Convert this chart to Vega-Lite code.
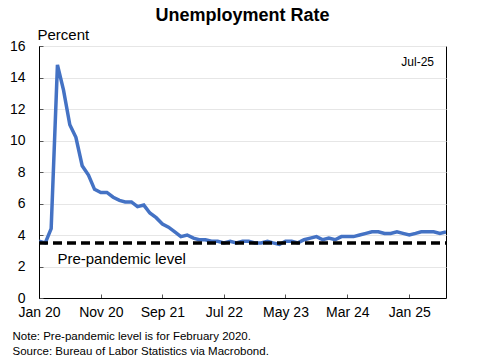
{
  "$schema": "https://vega.github.io/schema/vega-lite/v6.json",
  "autosize": "none",
  "width": 407,
  "height": 252,
  "padding": {"left": 39, "top": 46, "right": 34, "bottom": 62},
  "background": "white",
  "config": {
    "font": "Liberation Sans",
    "view": {"stroke": "black", "strokeWidth": 1}
  },
  "title": {
    "text": "Unemployment Rate",
    "fontSize": 18,
    "fontWeight": "bold",
    "color": "black",
    "anchor": "middle",
    "offset": 2
  },
  "datasets": {
    "unemployment": [
      {"date": "2020-01-01", "rate": 3.6}, {"date": "2020-02-01", "rate": 3.5}, {"date": "2020-03-01", "rate": 4.4},
      {"date": "2020-04-01", "rate": 14.8}, {"date": "2020-05-01", "rate": 13.2}, {"date": "2020-06-01", "rate": 11.0},
      {"date": "2020-07-01", "rate": 10.2}, {"date": "2020-08-01", "rate": 8.4}, {"date": "2020-09-01", "rate": 7.8},
      {"date": "2020-10-01", "rate": 6.9}, {"date": "2020-11-01", "rate": 6.7}, {"date": "2020-12-01", "rate": 6.7},
      {"date": "2021-01-01", "rate": 6.4}, {"date": "2021-02-01", "rate": 6.2}, {"date": "2021-03-01", "rate": 6.1},
      {"date": "2021-04-01", "rate": 6.1}, {"date": "2021-05-01", "rate": 5.8}, {"date": "2021-06-01", "rate": 5.9},
      {"date": "2021-07-01", "rate": 5.4}, {"date": "2021-08-01", "rate": 5.1}, {"date": "2021-09-01", "rate": 4.7},
      {"date": "2021-10-01", "rate": 4.5}, {"date": "2021-11-01", "rate": 4.2}, {"date": "2021-12-01", "rate": 3.9},
      {"date": "2022-01-01", "rate": 4.0}, {"date": "2022-02-01", "rate": 3.8}, {"date": "2022-03-01", "rate": 3.7},
      {"date": "2022-04-01", "rate": 3.7}, {"date": "2022-05-01", "rate": 3.6}, {"date": "2022-06-01", "rate": 3.6},
      {"date": "2022-07-01", "rate": 3.5}, {"date": "2022-08-01", "rate": 3.6}, {"date": "2022-09-01", "rate": 3.5},
      {"date": "2022-10-01", "rate": 3.6}, {"date": "2022-11-01", "rate": 3.6}, {"date": "2022-12-01", "rate": 3.5},
      {"date": "2023-01-01", "rate": 3.5}, {"date": "2023-02-01", "rate": 3.6}, {"date": "2023-03-01", "rate": 3.5},
      {"date": "2023-04-01", "rate": 3.4}, {"date": "2023-05-01", "rate": 3.6}, {"date": "2023-06-01", "rate": 3.6},
      {"date": "2023-07-01", "rate": 3.5}, {"date": "2023-08-01", "rate": 3.7}, {"date": "2023-09-01", "rate": 3.8},
      {"date": "2023-10-01", "rate": 3.9}, {"date": "2023-11-01", "rate": 3.7}, {"date": "2023-12-01", "rate": 3.8},
      {"date": "2024-01-01", "rate": 3.7}, {"date": "2024-02-01", "rate": 3.9}, {"date": "2024-03-01", "rate": 3.9},
      {"date": "2024-04-01", "rate": 3.9}, {"date": "2024-05-01", "rate": 4.0}, {"date": "2024-06-01", "rate": 4.1},
      {"date": "2024-07-01", "rate": 4.2}, {"date": "2024-08-01", "rate": 4.2}, {"date": "2024-09-01", "rate": 4.1},
      {"date": "2024-10-01", "rate": 4.1}, {"date": "2024-11-01", "rate": 4.2}, {"date": "2024-12-01", "rate": 4.1},
      {"date": "2025-01-01", "rate": 4.0}, {"date": "2025-02-01", "rate": 4.1}, {"date": "2025-03-01", "rate": 4.2},
      {"date": "2025-04-01", "rate": 4.2}, {"date": "2025-05-01", "rate": 4.2}, {"date": "2025-06-01", "rate": 4.1},
      {"date": "2025-07-01", "rate": 4.2}
    ],
    "prepandemic": [
      {"date": "2020-01-01", "date2": "2025-07-01", "rate": 3.5}
    ],
    "prepandemicLabel": [
      {"date": "2020-04-01", "rate": 2.5, "label": "Pre-pandemic level"}
    ],
    "latest": [
      {"date": "2025-07-01", "rate": 15, "label": "Jul-25"}
    ]
  },
  "encoding": {
    "x": {
      "field": "date",
      "type": "temporal",
      "scale": {
        "type": "utc",
        "domain": [
          {"year": 2020, "month": 1, "date": 1, "utc": true},
          {"year": 2025, "month": 7, "date": 1, "utc": true}
        ]
      },
      "axis": {
        "values": [
          {"year": 2020, "month": 1, "date": 1, "utc": true},
          {"year": 2020, "month": 11, "date": 1, "utc": true},
          {"year": 2021, "month": 9, "date": 1, "utc": true},
          {"year": 2022, "month": 7, "date": 1, "utc": true},
          {"year": 2023, "month": 5, "date": 1, "utc": true},
          {"year": 2024, "month": 3, "date": 1, "utc": true},
          {"year": 2025, "month": 1, "date": 1, "utc": true}
        ],
        "format": "%b %y",
        "grid": false,
        "tickSize": -4,
        "tickColor": "#555555",
        "domainColor": "black",
        "labelFontSize": 14,
        "labelColor": "black",
        "labelPadding": 11,
        "labelFlush": false,
        "labelOverlap": false,
        "title": ["Note: Pre-pandemic level is for February 2020.", "Source: Bureau of Labor Statistics via Macrobond."],
        "titleFontSize": 11.5,
        "titleFontWeight": "normal",
        "titleColor": "black",
        "titleAnchor": "start",
        "titleAlign": "left",
        "titleBaseline": "top",
        "titleX": -27,
        "titleY": 32,
        "titleLineHeight": 15
      }
    },
    "y": {
      "field": "rate",
      "type": "quantitative",
      "scale": {"domain": [0, 16], "nice": false},
      "axis": {
        "values": [0, 2, 4, 6, 8, 10, 12, 14, 16],
        "labelOverlap": false,
        "grid": true,
        "gridColor": "#e6e6e6",
        "tickSize": -4,
        "tickColor": "#555555",
        "domainColor": "black",
        "labelFontSize": 14,
        "labelColor": "black",
        "labelPadding": 18,
        "title": "Percent",
        "titleAngle": 0,
        "titleAlign": "left",
        "titleBaseline": "alphabetic",
        "titleFontSize": 15,
        "titleFontWeight": "normal",
        "titleColor": "black",
        "titleX": -2,
        "titleY": -7
      }
    }
  },
  "layer": [
    {
      "data": {"name": "unemployment"},
      "mark": {"type": "line", "color": "#4472C4", "strokeWidth": 3.5, "clip": true}
    },
    {
      "data": {"name": "prepandemic"},
      "mark": {"type": "rule", "color": "black", "strokeWidth": 3.5, "strokeDash": [9, 5]},
      "encoding": {"x2": {"field": "date2"}}
    },
    {
      "data": {"name": "prepandemicLabel"},
      "mark": {"type": "text", "align": "left", "baseline": "middle", "fontSize": 15, "color": "black"},
      "encoding": {"text": {"field": "label"}}
    },
    {
      "data": {"name": "latest"},
      "mark": {"type": "text", "align": "right", "baseline": "middle", "fontSize": 12, "color": "black", "dx": -12},
      "encoding": {"text": {"field": "label"}}
    }
  ]
}
